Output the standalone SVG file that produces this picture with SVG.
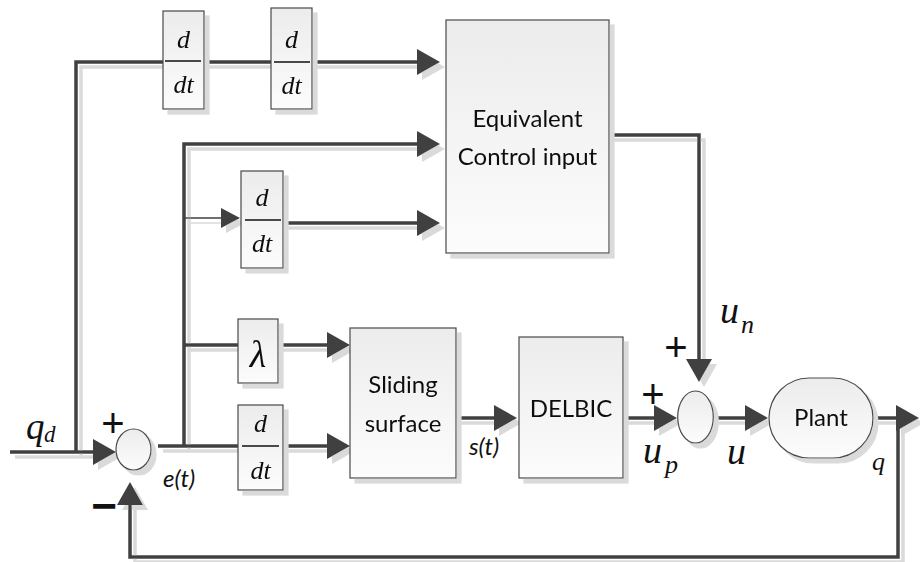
<svg xmlns="http://www.w3.org/2000/svg" width="920" height="562" viewBox="0 0 920 562">
<defs>
<linearGradient id="bg" x1="0" y1="0" x2="0" y2="1">
<stop offset="0" stop-color="#ececec"/>
<stop offset="1" stop-color="#fcfcfc"/>
</linearGradient>
<filter id="sh" x="-10%" y="-10%" width="130%" height="130%">
<feDropShadow dx="5" dy="5" stdDeviation="0.6" flood-color="#dadada" flood-opacity="1"/>
</filter>
<marker id="ah" markerUnits="userSpaceOnUse" markerWidth="24" markerHeight="28" refX="0" refY="13" orient="auto">
<path d="M0,0 L23,13 L0,26 Z" fill="#404040"/>
</marker>
<marker id="ahs" markerUnits="userSpaceOnUse" markerWidth="20" markerHeight="22" refX="0" refY="10" orient="auto">
<path d="M0,0 L19,10 L0,20 Z" fill="#404040"/>
</marker>
<style>
.ln{fill:none;stroke:#404040;stroke-width:3.5;marker-end:url(#ah)}
.pl{fill:none;stroke:#404040;stroke-width:3.5}
.box{fill:url(#bg);stroke:#4a4a4a;stroke-width:1.2}
.lbl{font-family:Lato,"Open Sans",sans-serif;font-size:24px;fill:#111;text-anchor:middle}
.it{font-family:Lato,"Open Sans",sans-serif;font-style:italic;font-size:24px;fill:#111}
.m{font-family:"Liberation Serif",serif;font-style:italic;fill:#111}
.frac{font-family:"Liberation Serif",serif;font-style:italic;font-size:26px;fill:#111;text-anchor:middle}
.bar{stroke:#111;stroke-width:1.6}
.sg{font-family:"Liberation Sans",sans-serif;fill:#111;text-anchor:middle}
</style>
</defs>

<g id="connectors" filter="url(#sh)">
<path class="ln" d="M10,452 H93"/>
<path class="ln" d="M76,452 V62 H417"/>
<path class="ln" d="M158,446 H327"/>
<path class="ln" d="M184,446 V144 H417"/>
<path class="pl" d="M184,345 H240"/>
<path class="ln" d="M276,345 H327"/>
<path fill="none" stroke="#404040" stroke-width="1.5" marker-end="url(#ahs)" d="M184,218 H221"/>
<path class="ln" d="M283,223 H417"/>
<path class="ln" d="M456,418 H494"/>
<path class="ln" d="M623,418 H654"/>
<path class="ln" d="M609,135 H699 V359"/>
<path class="ln" d="M714,418 H745"/>
<path class="ln" d="M873,418 H896"/>
<path class="ln" d="M898,418 V557 H130 V505"/>
</g>

<g id="d1" filter="url(#sh)">
<rect class="box" x="163" y="11" width="41" height="98"/>
<text class="frac" x="183.5" y="48">d</text>
<line class="bar" x1="165" y1="61" x2="201" y2="61"/>
<text class="frac" x="183.5" y="93">dt</text>
</g>
<g id="d2" filter="url(#sh)">
<rect class="box" x="271" y="8" width="41" height="101"/>
<text class="frac" x="291.5" y="48">d</text>
<line class="bar" x1="274" y1="62" x2="310" y2="62"/>
<text class="frac" x="291.5" y="94">dt</text>
</g>
<g id="d3" filter="url(#sh)">
<rect class="box" x="241" y="171" width="42" height="97"/>
<text class="frac" x="262" y="206">d</text>
<line class="bar" x1="245" y1="220" x2="281" y2="220"/>
<text class="frac" x="262" y="252">dt</text>
</g>
<g id="lambda" filter="url(#sh)">
<rect class="box" x="238" y="319" width="40" height="64"/>
<text class="m" x="258" y="367" font-size="38" text-anchor="middle">λ</text>
</g>
<g id="d4" filter="url(#sh)">
<rect class="box" x="238" y="405" width="45" height="85"/>
<text class="frac" x="260.5" y="432">d</text>
<line class="bar" x1="242" y1="446" x2="279" y2="446"/>
<text class="frac" x="260.5" y="479">dt</text>
</g>
<g id="equivalent" filter="url(#sh)">
<rect class="box" x="446" y="20" width="163" height="233"/>
<text class="lbl" x="527.5" y="127">Equivalent</text>
<text class="lbl" x="527.5" y="165">Control input</text>
</g>
<g id="sliding" filter="url(#sh)">
<rect class="box" x="350" y="328" width="106" height="150"/>
<text class="lbl" x="403" y="393">Sliding</text>
<text class="lbl" x="403" y="432">surface</text>
</g>
<g id="delbic" filter="url(#sh)">
<rect class="box" x="519" y="337" width="104" height="141"/>
<text class="lbl" x="571" y="417">DELBIC</text>
</g>
<g id="sum1" filter="url(#sh)">
<ellipse class="box" cx="133.5" cy="449.5" rx="17.5" ry="20.5"/>
</g>
<g id="sum2" filter="url(#sh)">
<ellipse class="box" cx="695.5" cy="417" rx="17.8" ry="26"/>
</g>
<g id="plant" filter="url(#sh)">
<rect class="box" x="769" y="378" width="104" height="80" rx="40" ry="40"/>
<text class="lbl" x="821" y="426">Plant</text>
</g>

<g id="labels">
<text class="m" x="26" y="439" font-size="37">q</text>
<text class="m" x="44" y="442" font-size="23">d</text>
<text class="sg" x="113" y="437" font-size="40">+</text>
<text class="sg" x="104" y="521" font-size="44" font-weight="bold">−</text>
<text class="it" x="163" y="487">e(t)</text>
<text class="it" x="469" y="455">s(t)</text>
<text class="m" x="720" y="323" font-size="38">u</text>
<text class="m" x="741" y="333" font-size="26">n</text>
<text class="sg" x="676" y="361" font-size="40">+</text>
<text class="sg" x="653" y="408" font-size="40">+</text>
<text class="m" x="643" y="463" font-size="38">u</text>
<text class="m" x="665" y="473" font-size="26">p</text>
<text class="m" x="727" y="464" font-size="38">u</text>
<text class="m" x="872" y="470" font-size="26">q</text>
</g>
</svg>
